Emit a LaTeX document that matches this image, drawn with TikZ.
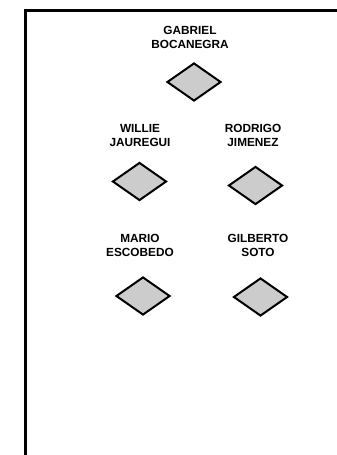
\documentclass[tikz,border=0pt]{standalone}
\usepackage{fontspec}
\setmainfont{Liberation Sans}
\usetikzlibrary{shapes.geometric}
\definecolor{diafill}{RGB}{204,204,204}
\begin{document}
\begin{tikzpicture}[x=1pt,y=-1pt,
  person/.style={font=\bfseries\fontsize{11.8}{14}\selectfont, align=center, inner sep=0pt},
  gem/.style={diamond, draw=black, line width=2pt, fill=diafill, inner sep=0pt,
    minimum width=54pt, minimum height=38pt}]
\useasboundingbox (0,0) rectangle (337,455);
\coordinate (tr) at (337,10);
\coordinate (tl) at (25,10);
\coordinate (bl) at (25,455);
\draw[line width=3pt] (tr) -- (tl) -- (bl);
\node[person] (t1) at (190,37) {GABRIEL\\BOCANEGRA};
\node[gem] (d1) at (194,82) {};
\node[person] (t2) at (140,135) {WILLIE\\JAUREGUI};
\node[gem] (d2) at (139.5,181.5) {};
\node[person] (t3) at (253,135) {RODRIGO\\JIMENEZ};
\node[gem] (d3) at (255.5,185.5) {};
\node[person] (t4) at (140,245) {MARIO\\ESCOBEDO};
\node[gem] (d4) at (143,296) {};
\node[person] (t5) at (258,245) {GILBERTO\\SOTO};
\node[gem] (d5) at (260.5,297) {};
\end{tikzpicture}
\end{document}
